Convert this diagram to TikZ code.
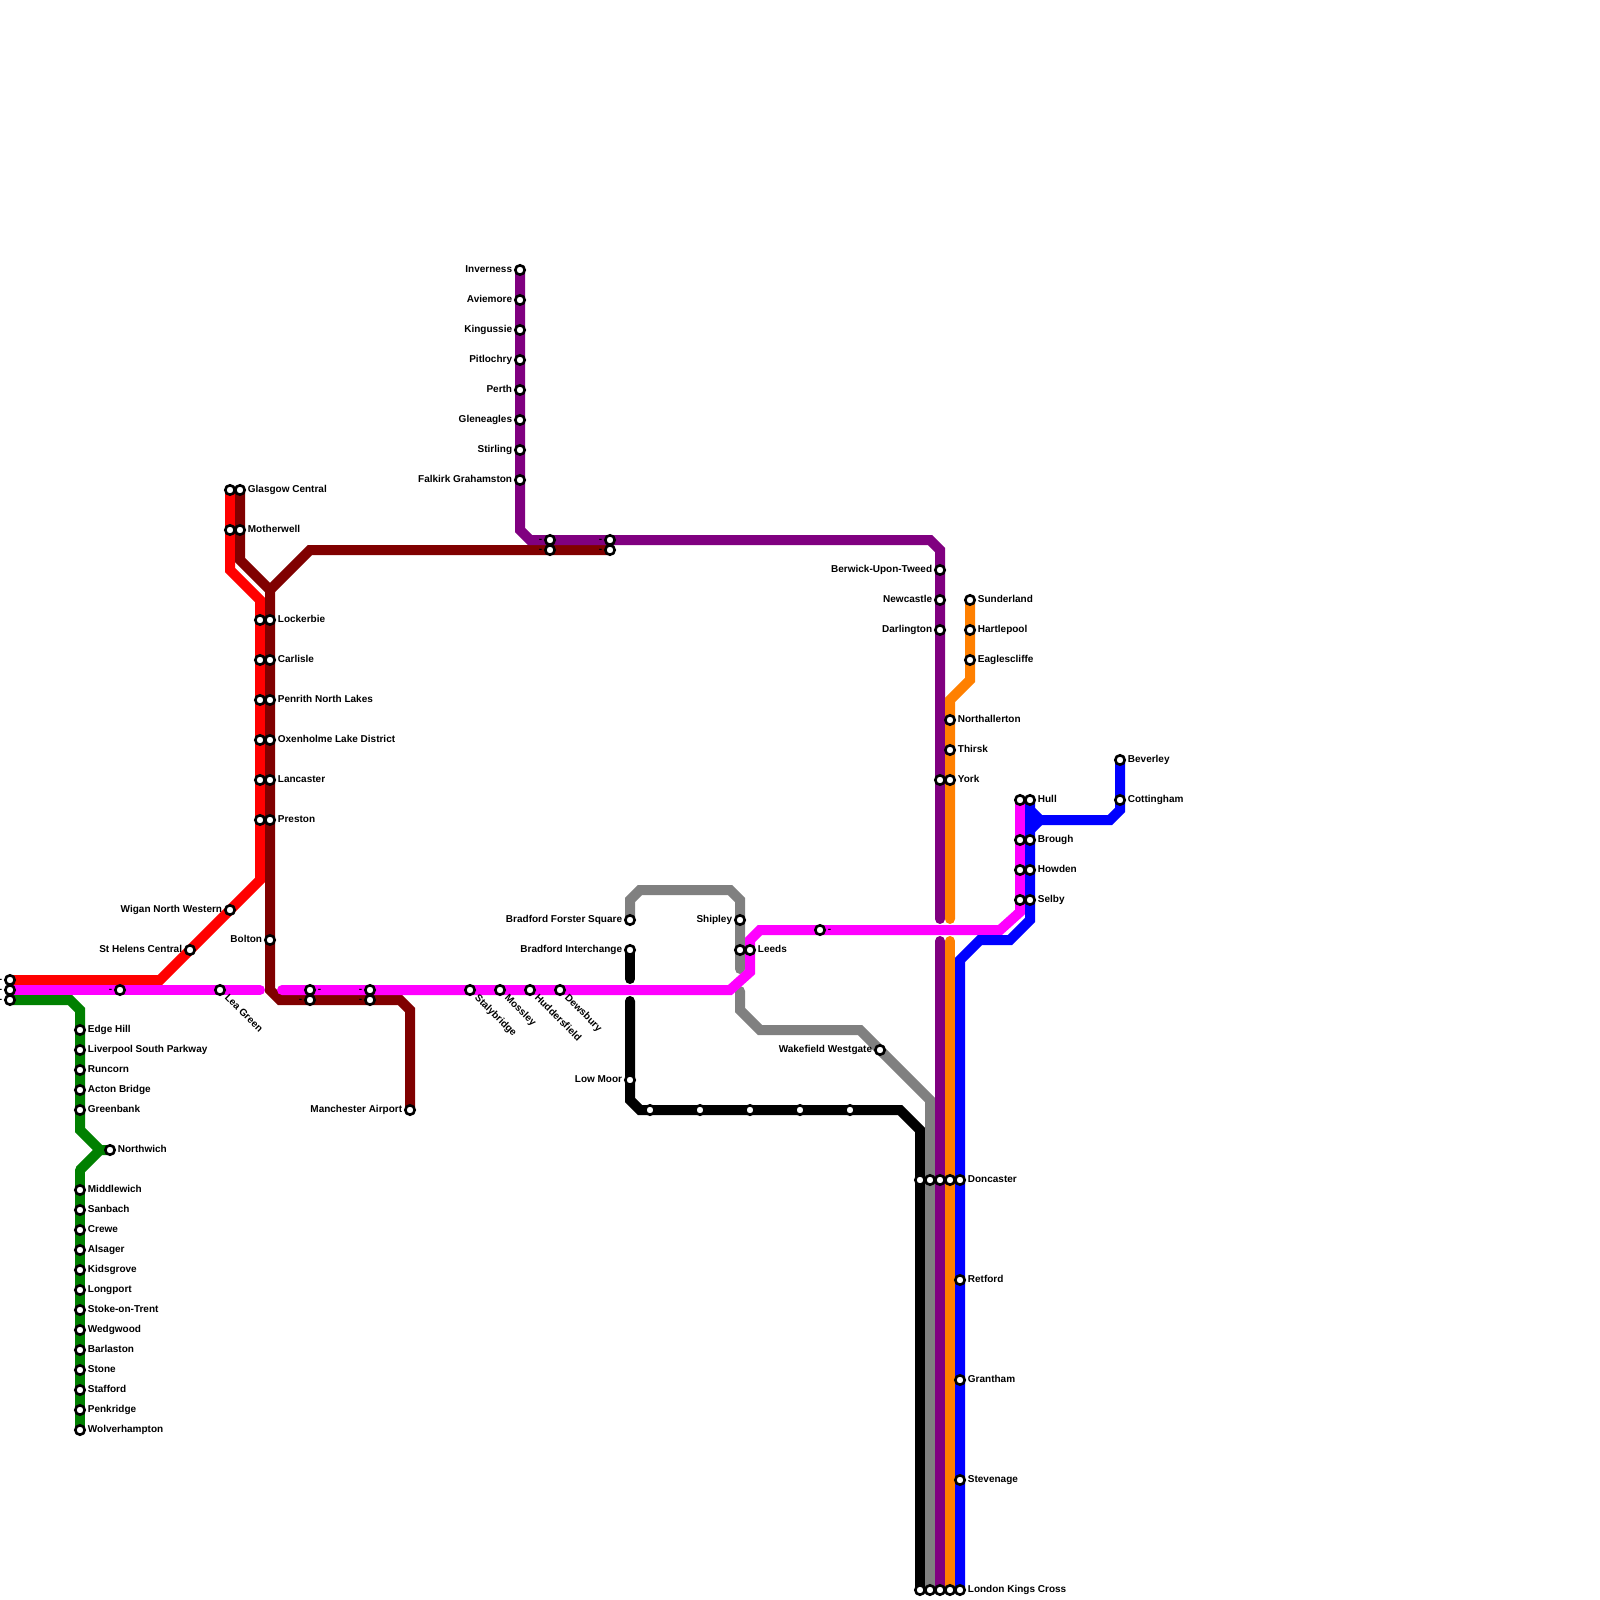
\documentclass[tikz,border=0pt]{standalone}
\usepackage{fontspec}
\setmainfont{Liberation Sans}
\pgfdeclarelayer{tracks}
\pgfsetlayers{tracks,main}
\definecolor{cRed}{HTML}{FF0000}
\definecolor{cMaroon}{HTML}{800000}
\definecolor{cGreen}{HTML}{008000}
\definecolor{cMag}{HTML}{FF00FF}
\definecolor{cPurple}{HTML}{800080}
\definecolor{cOrange}{HTML}{FF8000}
\definecolor{cBlue}{HTML}{0000FF}
\definecolor{cGray}{HTML}{808080}
\tikzset{
  stn/.style={circle,draw=black,fill=white,line width=1.3pt,minimum size=4.7pt,inner sep=0pt},
  lbl/.style={font=\fontsize{5}{6}\selectfont\bfseries,inner sep=0pt,text=black},
  lblL/.style={lbl,anchor=base east},
  lblR/.style={lbl,anchor=base west},
  lblD/.style={lbl,anchor=base west,rotate=-45},
  trk/.style={line width=5pt,miter limit=10,line cap=round},
  spur/.style={line width=5pt,miter limit=10,line cap=butt},
}
% name, x, y, text
\newcommand{\stL}[4]{\node[stn] (#1) at (#2,#3) {}; \node[lblL] (#1t) at (#2-7.5,#3+2.3) {#4};}
\newcommand{\stR}[4]{\node[stn] (#1) at (#2,#3) {}; \node[lblR] (#1t) at (#2+7.5,#3+2.3) {#4};}
\newcommand{\stD}[4]{\node[stn] (#1) at (#2,#3) {}; \node[lblD] (#1t) at (#2+4,#3+8) {#4};}
\newcommand{\stN}[3]{\node[stn] (#1) at (#2,#3) {};}
\begin{document}
\begin{tikzpicture}[x=0.5pt,y=-0.5pt]
\useasboundingbox (0,0) rectangle (1600,1600);
% bends and line breaks
\coordinate (r1) at (160,980); \coordinate (r2) at (260,880); \coordinate (r3) at (260,600); \coordinate (r4) at (230,570);
\coordinate (m1) at (240,560); \coordinate (mj) at (270,590); \coordinate (m2) at (310,550);
\coordinate (m3) at (270,990); \coordinate (m4) at (280,1000); \coordinate (m5) at (400,1000); \coordinate (m6) at (410,1010);
\coordinate (g1) at (70,1000); \coordinate (g2) at (80,1010); \coordinate (g3) at (80,1130); \coordinate (g4) at (100,1150); \coordinate (g5) at (80,1170);
\coordinate (p1) at (260,990); \coordinate (p2) at (282,990); \coordinate (p3) at (730,990); \coordinate (p4) at (750,972); \coordinate (p5) at (750,940); \coordinate (p6) at (760,930); \coordinate (p7) at (1000,930); \coordinate (p8) at (1020,912);
\coordinate (v1) at (520,530); \coordinate (v2) at (530,540); \coordinate (v3) at (930,540); \coordinate (v4) at (940,550); \coordinate (v5) at (940,919); \coordinate (v6) at (940,941);
\coordinate (o1) at (970,680); \coordinate (o2) at (950,700); \coordinate (o3) at (950,919); \coordinate (o4) at (950,941);
\coordinate (b1) at (960,960); \coordinate (b2) at (980,940); \coordinate (b3) at (1010,940); \coordinate (b4) at (1030,920);
\coordinate (b5) at (1030,810); \coordinate (b6) at (1040,820); \coordinate (b7) at (1030,830); \coordinate (b8) at (1110,820); \coordinate (b9) at (1120,810);
\coordinate (y1) at (630,900); \coordinate (y2) at (640,890); \coordinate (y3) at (730,890); \coordinate (y4) at (740,900); \coordinate (y5) at (740,969); \coordinate (y6) at (740,991); \coordinate (y7) at (740,1010); \coordinate (y8) at (760,1030); \coordinate (y9) at (860,1030); \coordinate (y10) at (930,1100);
\coordinate (k1) at (630,979); \coordinate (k2) at (630,1001); \coordinate (k3) at (630,1100); \coordinate (k4) at (640,1110); \coordinate (k5) at (900,1110); \coordinate (k6) at (920,1130);
% west end
\stL{wa}{10}{980}{-} \stL{wb}{10}{990}{-} \stL{wc}{10}{1000}{-}
\stL{mga}{120}{990}{-}
\stD{lea}{220}{990}{Lea Green}
\stR{ma}{310}{990}{-} \stL{mb}{370}{990}{-}
\stL{mc}{310}{1000}{-} \stL{md}{370}{1000}{-}
\stD{sta}{470}{990}{Stalybridge} \stD{mos}{500}{990}{Mossley} \stD{hud}{530}{990}{Huddersfield} \stD{dew}{560}{990}{Dewsbury}
\stL{sth}{190}{950}{St Helens Central} \stL{wig}{230}{910}{Wigan North Western}
\stL{bol}{270}{940}{Bolton} \stL{man}{410}{1110}{Manchester Airport}
% Glasgow group
\stN{gla}{230}{490} \stR{glb}{240}{490}{Glasgow Central}
\stN{moa}{230}{530} \stR{mob}{240}{530}{Motherwell}
\stN{la}{260}{620} \stR{lb}{270}{620}{Lockerbie}
\stN{ca}{260}{660} \stR{cb}{270}{660}{Carlisle}
\stN{pa}{260}{700} \stR{pb}{270}{700}{Penrith North Lakes}
\stN{oa}{260}{740} \stR{ob}{270}{740}{Oxenholme Lake District}
\stN{lna}{260}{780} \stR{lnb}{270}{780}{Lancaster}
\stN{pra}{260}{820} \stR{prb}{270}{820}{Preston}
% green
\stR{g01}{80}{1030}{Edge Hill} \stR{g02}{80}{1050}{Liverpool South Parkway} \stR{g03}{80}{1070}{Runcorn} \stR{g04}{80}{1090}{Acton Bridge} \stR{g05}{80}{1110}{Greenbank}
\stR{nor}{110}{1150}{Northwich}
\stR{g06}{80}{1190}{Middlewich} \stR{g07}{80}{1210}{Sanbach} \stR{g08}{80}{1230}{Crewe} \stR{g09}{80}{1250}{Alsager} \stR{g10}{80}{1270}{Kidsgrove} \stR{g11}{80}{1290}{Longport} \stR{g12}{80}{1310}{Stoke-on-Trent} \stR{g13}{80}{1330}{Wedgwood} \stR{g14}{80}{1350}{Barlaston} \stR{g15}{80}{1370}{Stone} \stR{g16}{80}{1390}{Stafford} \stR{g17}{80}{1410}{Penkridge} \stR{g18}{80}{1430}{Wolverhampton}
% purple
\stL{v01}{520}{270}{Inverness} \stL{v02}{520}{300}{Aviemore} \stL{v03}{520}{330}{Kingussie} \stL{v04}{520}{360}{Pitlochry} \stL{v05}{520}{390}{Perth} \stL{v06}{520}{420}{Gleneagles} \stL{v07}{520}{450}{Stirling} \stL{v08}{520}{480}{Falkirk Grahamston}
\stL{ea}{550}{540}{-} \stL{eb}{550}{550}{-} \stL{fa}{610}{540}{-} \stL{fb}{610}{550}{-}
\stL{ber}{940}{570}{Berwick-Upon-Tweed} \stL{new}{940}{600}{Newcastle} \stL{dar}{940}{630}{Darlington}
\stN{yka}{940}{780}
% orange
\stR{sun}{970}{600}{Sunderland} \stR{har}{970}{630}{Hartlepool} \stR{eag}{970}{660}{Eaglescliffe}
\stR{nth}{950}{720}{Northallerton} \stR{thi}{950}{750}{Thirsk} \stR{yor}{950}{780}{York}
% Bradford / Leeds
\stL{bfs}{630}{920}{Bradford Forster Square} \stL{bin}{630}{950}{Bradford Interchange} \stL{low}{630}{1080}{Low Moor}
\stL{shi}{740}{920}{Shipley} \stN{lda}{740}{950} \stR{lee}{750}{950}{Leeds}
\stR{mge}{820}{930}{-}
\stL{wak}{880}{1050}{Wakefield Westgate}
\stN{k01}{650}{1110} \stN{k02}{700}{1110} \stN{k03}{750}{1110} \stN{k04}{800}{1110} \stN{k05}{850}{1110}
% east coast
\stN{dka}{920}{1180} \stN{dgy}{930}{1180} \stN{dpu}{940}{1180} \stN{dor}{950}{1180} \stR{don}{960}{1180}{Doncaster}
\stR{ret}{960}{1280}{Retford} \stR{gra}{960}{1380}{Grantham} \stR{ste}{960}{1480}{Stevenage}
\stN{lka}{920}{1590} \stN{lgy}{930}{1590} \stN{lpu}{940}{1590} \stN{lor}{950}{1590} \stR{lon}{960}{1590}{London Kings Cross}
% Hull
\stN{hma}{1020}{800} \stR{hul}{1030}{800}{Hull}
\stN{bra}{1020}{840} \stR{bro}{1030}{840}{Brough}
\stN{hoa}{1020}{870} \stR{how}{1030}{870}{Howden}
\stN{sea}{1020}{900} \stR{sel}{1030}{900}{Selby}
\stR{bev}{1120}{760}{Beverley} \stR{cot}{1120}{800}{Cottingham}
% tracks beneath the stations
\begin{pgfonlayer}{tracks}
\draw[trk,cRed] (wa.center) -- (r1) -- (r2) -- (r3) -- (r4) -- (gla.center);
\draw[trk,cMaroon] (glb.center) -- (m1) -- (mj) -- (m3) -- (m4) -- (m5) -- (m6) -- (man.center);
\draw[spur,cMaroon] (mj) -- (m2) -- (fb.center);
\draw[trk,cGreen] (wc.center) -- (g1) -- (g2) -- (g3) -- (g4) -- (nor.center);
\draw[trk,cGreen] (g18.center) -- (g5);
\draw[spur,cGreen] (g5) -- (g4);
\draw[trk,black] (bin.center) -- (k1);
\draw[trk,black] (k2) -- (k3) -- (k4) -- (k5) -- (k6) -- (lka.center);
\draw[trk,cGray] (bfs.center) -- (y1) -- (y2) -- (y3) -- (y4) -- (y5);
\draw[trk,cGray] (y6) -- (y7) -- (y8) -- (y9) -- (y10) -- (lgy.center);
\draw[trk,cPurple] (v01.center) -- (v1) -- (v2) -- (v3) -- (v4) -- (v5);
\draw[trk,cPurple] (v6) -- (lpu.center);
\draw[trk,cOrange] (sun.center) -- (o1) -- (o2) -- (o3);
\draw[trk,cOrange] (o4) -- (lor.center);
\draw[trk,cMag] (wb.center) -- (p1);
\draw[trk,cMag] (p2) -- (p3) -- (p4) -- (p5) -- (p6) -- (p7) -- (p8) -- (hma.center);
\draw[trk,cBlue] (lon.center) -- (b1) -- (b2) -- (b3) -- (b4) -- (hul.center);
\draw[spur,cBlue] (b5) -- (b6) -- (b7);
\draw[spur,cBlue] (b6) -- (b8) -- (b9) -- (bev.center);
\end{pgfonlayer}
\end{tikzpicture}
\end{document}
